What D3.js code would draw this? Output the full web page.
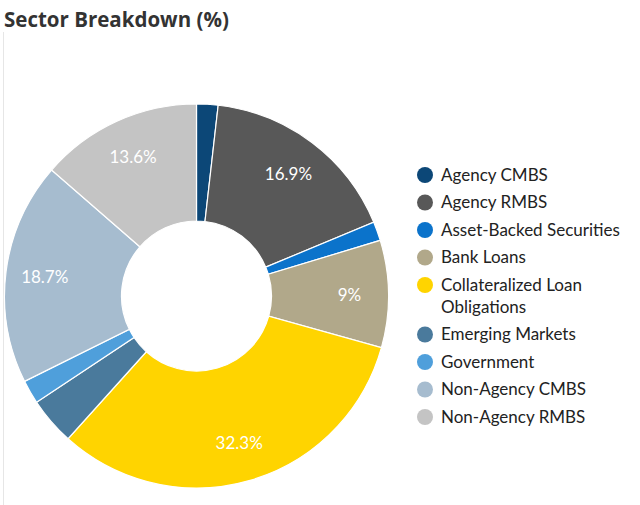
<!DOCTYPE html>
<html>
<head>
<meta charset="utf-8">
<script src="https://cdn.jsdelivr.net/npm/d3@7"></script>
<style>
  body { margin: 0; background: #fff; }
  svg { display: block; }
</style>
</head>
<body>
<svg id="chart" width="640" height="505"></svg>
<script>
// === data === //
var sectors = ["Agency CMBS", "Agency RMBS", "Asset-Backed Securities", "Bank Loans",
  "Collateralized Loan Obligations", "Emerging Markets", "Government",
  "Non-Agency CMBS", "Non-Agency RMBS"]
var weights = [1.8, 16.9, 1.6, 9, 32.3, 4.0, 2.0, 18.7, 13.6]
var colours = ["#0c4777", "#585858", "#0b73cb", "#b1a88a", "#ffd400",
  "#4a7a9c", "#4f9fdb", "#a6bccf", "#c4c4c4"]
var legendLines = [["Agency CMBS"], ["Agency RMBS"], ["Asset-Backed Securities"], ["Bank Loans"],
  ["Collateralized Loan", "Obligations"], ["Emerging Markets"], ["Government"],
  ["Non-Agency CMBS"], ["Non-Agency RMBS"]]

// === layout === //
var cx = 196.5, cy = 296
var outerR = 192, innerR = 75
var labelR = 153
var minLabel = 5 // slices below this get no label

var svg = d3.select("#chart")

// thin rule on the left
svg.append("line")
  .attr("x1", 3.5).attr("x2", 3.5)
  .attr("y1", 32).attr("y2", 505)
  .attr("stroke", "#e6e6e6").attr("stroke-width", 1)

svg.append("text")
  .attr("x", 4).attr("y", 27)
  .attr("font-family", "Open Sans, sans-serif")
  .attr("font-weight", 700)
  .attr("font-size", 20.5)
  .attr("fill", "#333")
  .text("Sector Breakdown (%)")

var data = sectors.map(function(s, i) {
  return { name: s, value: weights[i], colour: colours[i], lines: legendLines[i] }
})

var pie = d3.pie().sort(null).value(function(d) { return d.value })
var arc = d3.arc().innerRadius(innerR).outerRadius(outerR)
var labelArc = d3.arc().innerRadius(labelR).outerRadius(labelR)

var g = svg.append("g").attr("transform", "translate(" + cx + "," + cy + ")")

var arcs = pie(data)

g.selectAll("path.slice")
  .data(arcs)
  .enter().append("path")
  .attr("class", "slice")
  .attr("d", arc)
  .attr("fill", function(d) { return d.data.colour })
  .attr("stroke", "#fff")
  .attr("stroke-width", 1.2)

g.selectAll("text.lbl")
  .data(arcs.filter(function(d) { return d.data.value >= minLabel }))
  .enter().append("text")
  .attr("class", "lbl")
  .attr("transform", function(d) { return "translate(" + labelArc.centroid(d) + ")" })
  .attr("text-anchor", "middle")
  .attr("dy", "0.38em")
  .attr("font-family", "Lato, sans-serif")
  .attr("font-size", 17)
  .attr("fill", "#fff")
  .text(function(d) { return d.data.value + "%" })

// === legend === //
var legendX = 425
var legendTop = 175
var rowGap = 27.5
var lineGap = 22

var legend = svg.append("g")
var yPos = legendTop
data.forEach(function(d) {
  var row = legend.append("g").attr("transform", "translate(" + legendX + "," + yPos + ")")
  row.append("circle").attr("r", 8).attr("fill", d.colour)
  d.lines.forEach(function(t, j) {
    row.append("text")
      .attr("x", 16)
      .attr("y", j * lineGap)
      .attr("dy", "0.35em")
      .attr("font-family", "Lato, sans-serif")
      .attr("font-size", 17)
      .attr("fill", "#222")
      .text(t)
  })
  yPos += rowGap + (d.lines.length - 1) * lineGap
})
</script>
</body>
</html>
